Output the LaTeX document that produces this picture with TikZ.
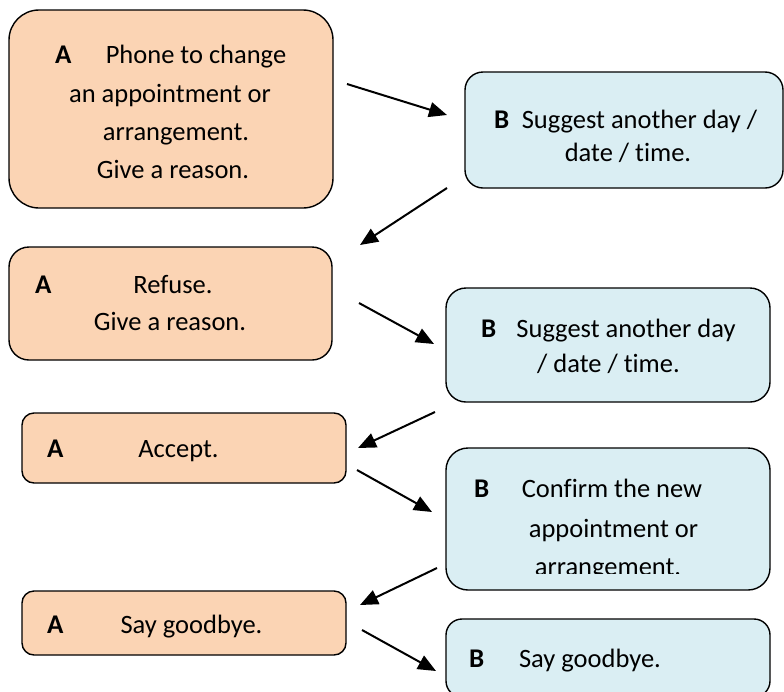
\documentclass[tikz,border=0pt]{standalone}
\usepackage{fontspec}
\setmainfont[Ligatures=NoCommon]{Carlito}
\usetikzlibrary{arrows.meta}
\definecolor{peach}{HTML}{FBD4B4}
\definecolor{paleblue}{HTML}{DAEEF3}
\tikzset{
  abox/.style={draw=black, line width=1.4pt, fill=peach, rectangle, inner sep=0pt},
  bbox/.style={draw=black, line width=1.4pt, fill=paleblue, rectangle, inner sep=0pt},
  txt/.style={inner sep=0pt, anchor=base, font=\fontsize{26.5}{30}\selectfont},
  lbl/.style={inner sep=0pt, anchor=base west, font=\fontsize{27}{30}\selectfont\bfseries},
  flow/.style={line width=2pt, -{Triangle[length=18pt,width=15pt]}}
}
\begin{document}
\begin{tikzpicture}[x=1pt,y=-1pt]
\clip (0,0) rectangle (784,691);
\fill[white] (0,0) rectangle (784,691);
% boxes
\node[abox, rounded corners=30pt, minimum width=324pt, minimum height=198pt] (A1) at (171,109) {};
\node[bbox, rounded corners=18pt, minimum width=318pt, minimum height=116pt] (B1) at (624,130) {};
\node[abox, rounded corners=20pt, minimum width=323pt, minimum height=113pt] (A2) at (170.5,303.5) {};
\node[bbox, rounded corners=20pt, minimum width=324pt, minimum height=114pt] (B2) at (608,345) {};
\node[abox, rounded corners=12pt, minimum width=324pt, minimum height=70pt] (A3) at (184,448) {};
\node[bbox, rounded corners=22pt, minimum width=324pt, minimum height=142pt] (B3) at (608,519) {};
\node[abox, rounded corners=12pt, minimum width=324pt, minimum height=64pt] (A4) at (184,623) {};
\node[bbox, rounded corners=16pt, minimum width=324pt, minimum height=78pt] (B4) at (608,658) {};
% texts A1
\node[lbl] (a1l) at (55,63) {A};
\node[txt] (a1t1) at (196,63) {Phone to change};
\node[txt] (a1t2) at (170,102) {an appointment or};
\node[txt] (a1t3) at (176,140) {arrangement.};
\node[txt] (a1t4) at (173,178) {Give a reason.};
% B1
\node[lbl] (b1l) at (494,128) {B};
\node[txt] (b1t1) at (639.5,128) {Suggest another day /};
\node[txt] (b1t2) at (628,161) {date / time.};
% A2
\node[lbl] (a2l) at (35,293) {A};
\node[txt] (a2t1) at (173,293) {Refuse.};
\node[txt] (a2t2) at (170,330) {Give a reason.};
% B2
\node[lbl] (b2l) at (481,337) {B};
\node[txt] (b2t1) at (626,337) {Suggest another day};
\node[txt] (b2t2) at (608.5,372) {/ date / time.};
% A3
\node[lbl] (a3l) at (47,457) {A};
\node[txt] (a3t1) at (178.5,457) {Accept.};
% B3
\node[lbl] (b3l) at (474,497) {B};
\node[txt] (b3t1) at (612,497) {Confirm the new};
\node[txt] (b3t2) at (613.5,537) {appointment or};
\begin{scope}
\clip (440,540) rectangle (780,573.5);
\node[txt] (b3t3) at (608,575) {arrangement.};
\end{scope}
% A4
\node[lbl] (a4l) at (47,633) {A};
\node[txt] (a4t1) at (191.5,633) {Say goodbye.};
% B4
\node[lbl] (b4l) at (469,667) {B};
\node[txt] (b4t1) at (590,667) {Say goodbye.};
% arrow ends
\coordinate (s1) at (347,84);  \coordinate (e1) at (447,115);
\coordinate (s2) at (447,188); \coordinate (e2) at (360,245);
\coordinate (s3) at (359,303); \coordinate (e3) at (434,344);
\coordinate (s4) at (435,412); \coordinate (e4) at (358,448);
\coordinate (s5) at (357,470); \coordinate (e5) at (432,512);
\coordinate (s6) at (437,568); \coordinate (e6) at (360,605);
\coordinate (s7) at (362,630); \coordinate (e7) at (436,671);
\foreach \i in {1,...,7} { \draw[flow] (s\i) -- (e\i); }
\end{tikzpicture}
\end{document}
